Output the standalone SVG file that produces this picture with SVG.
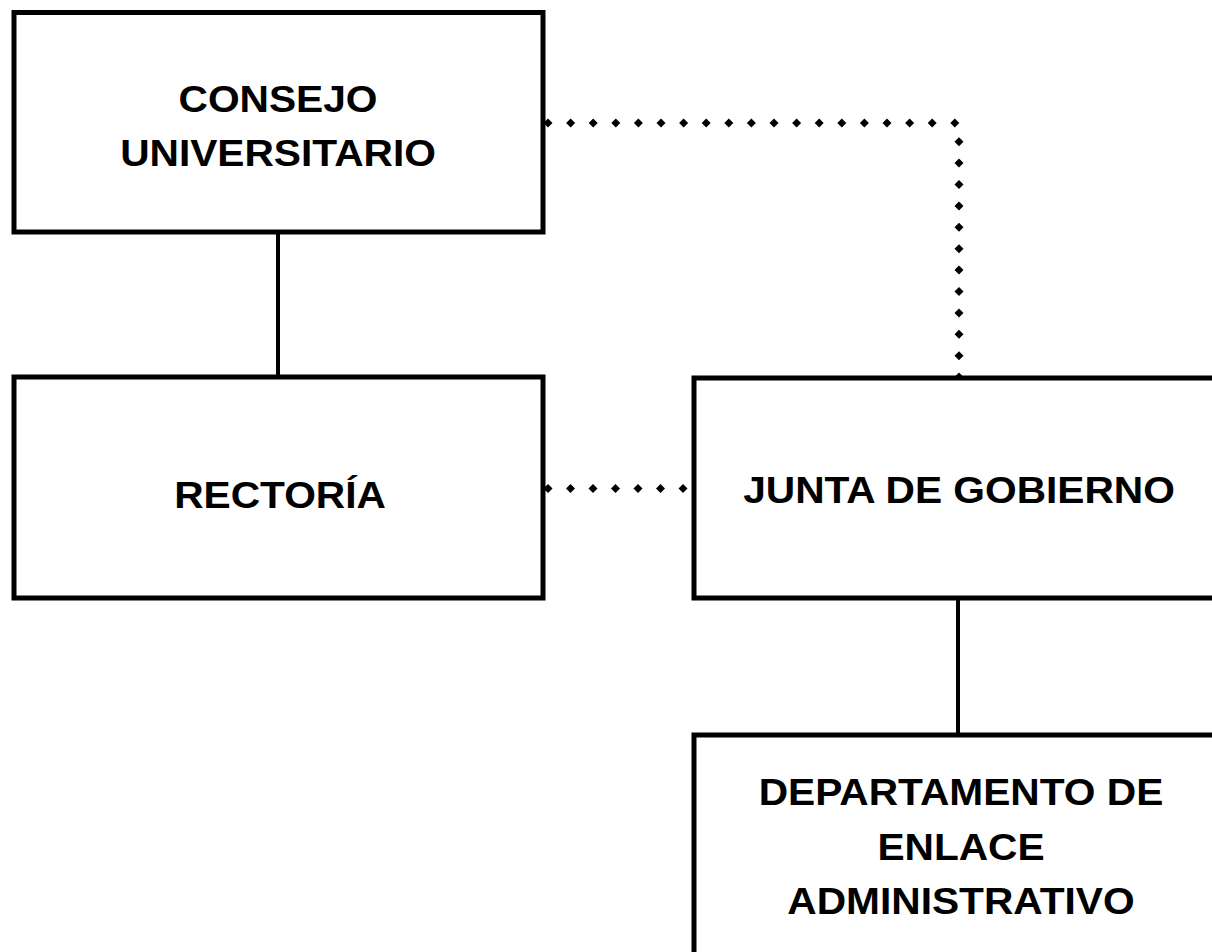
<svg xmlns="http://www.w3.org/2000/svg" xmlns:xlink="http://www.w3.org/1999/xlink" width="1212" height="952" viewBox="0 0 1212 952">
<style>
.box{fill:#fff;stroke:#000;stroke-width:5}
.line{stroke:#000;stroke-width:4;fill:none}
.t{font-family:"Liberation Sans",Arial,sans-serif;font-weight:bold;font-size:37px;fill:#000;text-anchor:middle}
</style>
<defs>
<polygon id="d" points="0,-4.5 4.5,0 0,4.5 -4.5,0" fill="#000"/>
</defs>
<rect width="1212" height="952" fill="#fff"/>
<g id="connectors">
<line class="line" x1="278" y1="232" x2="278" y2="377"/>
<line class="line" x1="958" y1="598" x2="958" y2="735"/>
<g id="dots-consejo-junta">
<use href="#d" x="548" y="123"/><use href="#d" x="570.6" y="123"/><use href="#d" x="593.2" y="123"/><use href="#d" x="615.8" y="123"/><use href="#d" x="638.4" y="123"/><use href="#d" x="661" y="123"/><use href="#d" x="683.6" y="123"/><use href="#d" x="706.2" y="123"/><use href="#d" x="728.8" y="123"/><use href="#d" x="751.4" y="123"/><use href="#d" x="774" y="123"/><use href="#d" x="796.6" y="123"/><use href="#d" x="819.2" y="123"/><use href="#d" x="841.8" y="123"/><use href="#d" x="864.4" y="123"/><use href="#d" x="887" y="123"/><use href="#d" x="909.6" y="123"/><use href="#d" x="932.2" y="123"/><use href="#d" x="954.8" y="123"/>
<use href="#d" x="959" y="141.7"/><use href="#d" x="959" y="163.1"/><use href="#d" x="959" y="184.5"/><use href="#d" x="959" y="205.9"/><use href="#d" x="959" y="227.3"/><use href="#d" x="959" y="248.7"/><use href="#d" x="959" y="270.1"/><use href="#d" x="959" y="291.5"/><use href="#d" x="959" y="312.9"/><use href="#d" x="959" y="334.3"/><use href="#d" x="959" y="355.7"/><use href="#d" x="959" y="377.1"/>
</g>
<g id="dots-rectoria-junta">
<use href="#d" x="548" y="488.5"/><use href="#d" x="570.5" y="488.5"/><use href="#d" x="593" y="488.5"/><use href="#d" x="615.5" y="488.5"/><use href="#d" x="638" y="488.5"/><use href="#d" x="660.5" y="488.5"/><use href="#d" x="683" y="488.5"/>
</g>
</g>
<g id="consejo">
<rect class="box" x="14" y="12.5" width="529" height="219.5"/>
<text class="t" transform="translate(278,112) scale(1.1,1)">CONSEJO</text>
<text class="t" transform="translate(278,166) scale(1.1,1)">UNIVERSITARIO</text>
</g>
<g id="rectoria">
<rect class="box" x="14" y="377" width="529" height="221"/>
<text class="t" transform="translate(280,508) scale(1.1,1)">RECTORÍA</text>
</g>
<g id="junta">
<rect class="box" x="694" y="378" width="540" height="220"/>
<text class="t" transform="translate(959,503) scale(1.1,1)">JUNTA DE GOBIERNO</text>
</g>
<g id="departamento">
<rect class="box" x="694" y="735" width="540" height="240"/>
<text class="t" transform="translate(961,805) scale(1.1,1)">DEPARTAMENTO DE</text>
<text class="t" transform="translate(961,859.5) scale(1.1,1)">ENLACE</text>
<text class="t" transform="translate(961,914) scale(1.1,1)">ADMINISTRATIVO</text>
</g>
</svg>
